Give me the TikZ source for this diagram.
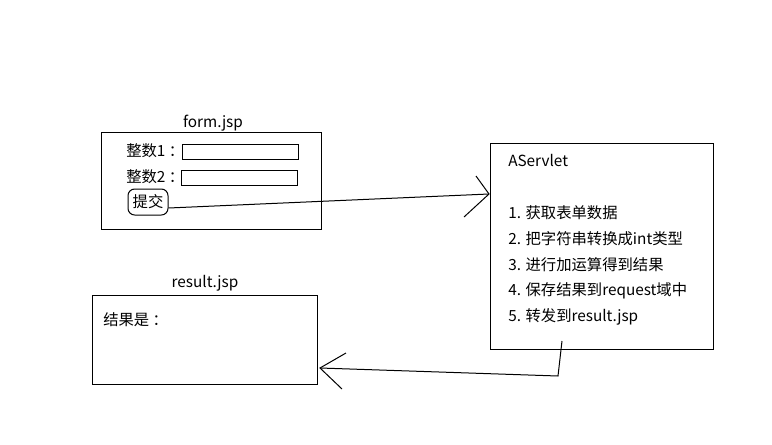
\documentclass[tikz,border=0pt]{standalone}
\usepackage{fontspec}
\setmainfont{Noto Sans CJK SC}
\begin{document}
\begin{tikzpicture}[x=0.75pt,y=-0.75pt,
  box/.style={draw=black,line width=0.75pt,inner sep=0pt},
  txt/.style={inner sep=0pt,font=\fontsize{11.5}{13}\selectfont,text=black},
  conn/.style={draw=black,line width=0.75pt}]
\useasboundingbox (0,0) rectangle (772,444);
% form.jsp
\node[box,minimum width=220*0.75pt,minimum height=97*0.75pt] (form) at (211,180.5) {};
\node[txt] (formlbl) at (213,123) {form.jsp};
\node[txt,anchor=west] (l1) at (126,151) {整数1 ：};
\node[txt,anchor=west] (l2) at (126,177) {整数2 ：};
\node[box,minimum width=116*0.75pt,minimum height=15*0.75pt] (f1) at (240,151.5) {};
\node[box,minimum width=116*0.75pt,minimum height=15*0.75pt] (f2) at (239,177.5) {};
\node[draw,line width=0.75pt,rounded corners=5pt,minimum width=40*0.75pt,minimum height=26*0.75pt,txt] (btn) at (148,202) {提交};
% AServlet
\node[box,minimum width=223*0.75pt,minimum height=206*0.75pt] (srv) at (601.5,246) {};
\node[txt,anchor=west] (t0) at (508,160) {AServlet};
\node[txt,anchor=west] (t1) at (508,213) {1. 获取表单数据};
\node[txt,anchor=west] (t2) at (508,239) {2. 把字符串转换成int类型};
\node[txt,anchor=west] (t3) at (508,265) {3. 进行加运算得到结果};
\node[txt,anchor=west] (t4) at (508,291) {4. 保存结果到request域中};
\node[txt,anchor=west] (t5) at (508,317) {5. 转发到result.jsp};
% result.jsp
\node[box,minimum width=225*0.75pt,minimum height=89*0.75pt] (res) at (204.5,339.5) {};
\node[txt] (reslbl) at (205,283) {result.jsp};
\node[txt,anchor=west] (r1) at (103,320) {结果是 ：};
% connectors
\coordinate (tipA) at (489,194);
\coordinate (bA1) at (476,176);
\coordinate (bA2) at (464,217);
\draw[conn] (btn.east |- 0,208) -- (tipA);
\draw[conn] (bA1) -- (tipA) -- (bA2);
\coordinate (s0) at (562,341);
\coordinate (s1) at (558,376);
\coordinate (tipB) at (320,368);
\coordinate (bB1) at (346,353);
\coordinate (bB2) at (342,389);
\draw[conn] (s0) -- (s1) -- (tipB);
\draw[conn] (bB1) -- (tipB) -- (bB2);
\end{tikzpicture}
\end{document}
